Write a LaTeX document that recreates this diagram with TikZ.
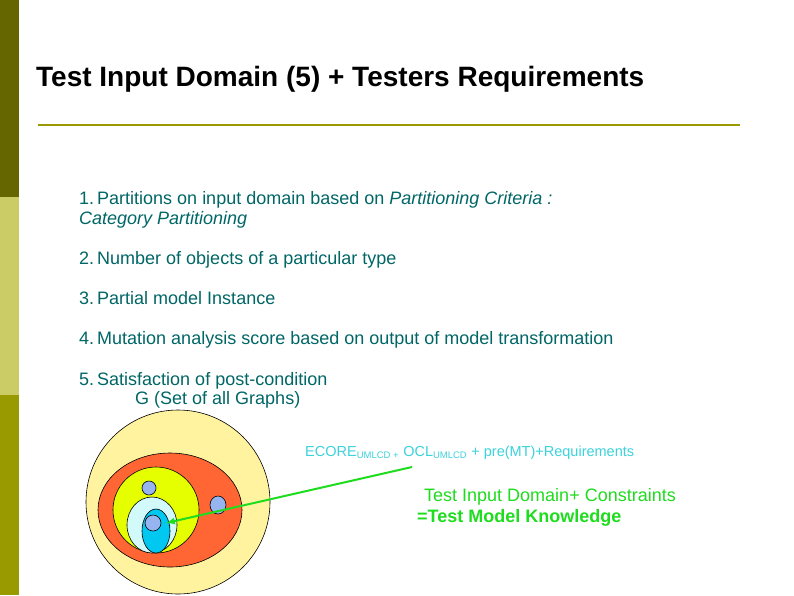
\documentclass[tikz,border=0pt]{standalone}
\usepackage{fontspec}
\setmainfont{Liberation Sans}
\begin{document}
\begin{tikzpicture}[x=1pt,y=-1pt,
  txt/.style={anchor=base west,inner sep=0pt,text=teal1,font=\fontsize{18}{20}\selectfont},
  ell/.style={draw=black,line width=0.6pt}]
\definecolor{teal1}{RGB}{0,102,102}
\definecolor{oliveA}{RGB}{102,102,0}
\definecolor{oliveB}{RGB}{204,204,102}
\definecolor{oliveC}{RGB}{153,153,0}
\definecolor{ecol}{RGB}{60,210,220}
\definecolor{gcol}{RGB}{30,220,30}
\useasboundingbox (0,0) rectangle (794,595);
\fill[white] (0,0) rectangle (794,595);
\fill[oliveA] (0,0) rectangle (19,197);
\fill[oliveB] (0,197) rectangle (19,395);
\fill[oliveC] (0,395) rectangle (19,595);
\node[anchor=base west,inner sep=0pt,font=\fontsize{28}{30}\selectfont\bfseries] (title) at (36,86) {Test Input Domain (5) + Testers Requirements};
\draw[oliveC,line width=2.5pt] (38,125) -- (740,125);
\node[txt] (i1) at (79,204) {1.\,Partitions on input domain based on \textit{Partitioning Criteria :}};
\node[txt] (i1b) at (79,224) {\textit{Category Partitioning}};
\node[txt] (i2) at (79,264) {2.\,Number of objects of a particular type};
\node[txt] (i3) at (79,304) {3.\,Partial model Instance};
\node[txt] (i4) at (79,344) {4.\,Mutation analysis score based on output of model transformation};
\node[txt] (i5) at (79,385) {5.\,Satisfaction of post-condition};
\node[txt] (g) at (135,404) {G (Set of all Graphs)};
\begin{scope}
\clip (19,400) rectangle (794,595);
\draw[ell,fill={rgb,255:red,255;green,243;blue,160}] (178,502) circle (92);
\end{scope}
\draw[ell,fill={rgb,255:red,255;green,102;blue,51}] (170,510) ellipse (72 and 57);
\draw[ell,fill={rgb,255:red,230;green,255;blue,0}] (156,510) ellipse (43 and 43);
\draw[ell,fill={rgb,255:red,150;green,180;blue,240}] (149,488) circle (7);
\draw[ell,fill={rgb,255:red,150;green,180;blue,240}] (218,505) ellipse (8 and 9);
\draw[ell,fill={rgb,255:red,210;green,250;blue,250}] (152,525) ellipse (25 and 28);
\draw[ell,fill={rgb,255:red,0;green,200;blue,240}] (156,531) ellipse (14 and 22);
\draw[ell,fill={rgb,255:red,150;green,180;blue,240}] (153,523) circle (8);
\coordinate (astart) at (412,467);
\coordinate (aend) at (166,523);
\draw[gcol,line width=2pt,-latex] (astart) -- (aend);
\node[anchor=base west,inner sep=0pt,text=ecol,font=\fontsize{14.5}{16}\selectfont] (ecore) at (305,456)
 {ECORE\textsubscript{\fontsize{9.5}{10}\selectfont UMLCD +} OCL\textsubscript{\fontsize{9.5}{10}\selectfont UMLCD} + pre(MT)+Requirements};
\node[anchor=base west,inner sep=0pt,text=gcol,font=\fontsize{18}{20}\selectfont] (tid) at (424,501) {Test Input Domain+ Constraints};
\node[anchor=base west,inner sep=0pt,text=gcol,font=\fontsize{18}{20}\selectfont\bfseries] (tmk) at (417,522) {=Test Model Knowledge};
\end{tikzpicture}
\end{document}
